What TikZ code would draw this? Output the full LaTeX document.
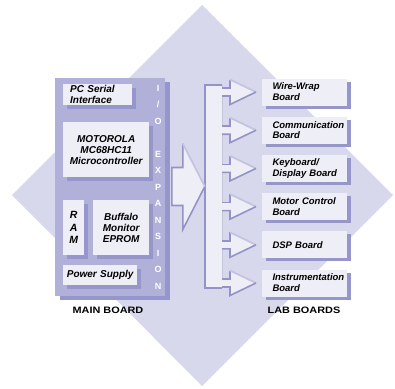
\documentclass[tikz,border=0pt]{standalone}
\usepackage{fontspec}
\setmainfont{Liberation Sans}
\newfontfamily\widefont[FakeStretch=1.17]{Liberation Sans}
\usetikzlibrary{shadows,calc}
\definecolor{dia}{HTML}{D8D8EC}
\definecolor{panel}{HTML}{B0B0D8}
\definecolor{shad}{HTML}{9696CA}
\definecolor{boxf}{HTML}{EEEEF7}
\definecolor{edgelt}{HTML}{C4C4E2}
\definecolor{edgedk}{HTML}{9393C8}
\begin{document}
\begin{tikzpicture}[x=1pt,y=-1pt,
  ibox/.style={fill=boxf, inner sep=0pt, anchor=north west,
    general shadow={fill=shad, shadow xshift=4pt, shadow yshift=-4pt},
    font=\bfseries\itshape\fontsize{10}{11}\selectfont},
  labbox/.style={fill=boxf, minimum width=85pt, minimum height=27pt,
    text width=64pt, align=left, inner sep=0pt,
    general shadow={fill=shad, shadow xshift=4pt, shadow yshift=-3pt},
    font=\bfseries\itshape\fontsize{9.5}{10.8}\selectfont},
  iol/.style={text=white, inner sep=0pt, font=\bfseries\fontsize{9}{9}\selectfont},
  caption/.style={inner sep=0pt, font=\widefont\bfseries\fontsize{9.3}{11}\selectfont},
  dk/.style={draw=edgedk, line width=1.6pt, line join=miter},
  lt/.style={draw=edgelt, line width=1.8pt}
]
\useasboundingbox (0,0) rectangle (395,388);
% background diamond
\fill[dia] (202,5) -- (393,195) -- (202,386) -- (12,195) -- cycle;

% main board panel
\node[anchor=north west, fill=panel, minimum width=110pt, minimum height=218pt,
  inner sep=0pt, general shadow={fill=shad, shadow xshift=5pt, shadow yshift=-4pt}]
  (main) at (55,78) {};

% inner boxes
\node[ibox, minimum width=69pt, minimum height=21pt, text width=55pt, align=left]
  (pc) at (63,84) {PC Serial\\Interface};
\node[ibox, minimum width=86pt, minimum height=55pt, text width=86pt, align=center]
  (moto) at (63,122) {MOTOROLA\\MC68HC11\\Microcontroller};
\node[ibox, minimum width=21pt, minimum height=55pt, text width=21pt, align=center,
  font=\bfseries\itshape\fontsize{10.5}{12.5}\selectfont]
  (ram) at (63,200) {R\\A\\M};
\node[ibox, minimum width=56pt, minimum height=55pt, text width=56pt, align=center]
  (buf) at (93,200) {Buffalo\\Monitor\\EPROM};
\node[ibox, minimum width=74pt, minimum height=20pt, text width=74pt, align=center]
  (pwr) at (63,265) {Power Supply};

% I/O EXPANSION column
\foreach \i/\l in {0/I,1/{/},2/O,4/E,5/X,6/P,7/A,8/N,9/S,10/I,11/O,12/N}
  \node[iol] (io\i) at (158,88+16.5*\i) {\l};

% bus bar
\node[fill=boxf, minimum width=17pt, minimum height=203pt, inner sep=0pt]
  (bus) at (213.5,186.5) {};
\draw[edgelt, line width=1.4pt] (bus.north east) -- (bus.south east);
\draw[dk] (bus.north east) -- (bus.north west) -- (bus.south west) -- (bus.south east);

% big arrow main -> bus
\coordinate (btip) at (bus.west);
\begin{scope}[shift={(btip)}]
  \fill[boxf] (-33,-19) -- (-22,-19) -- (-22,-43) -- (0,0) -- (-22,43) -- (-22,19) -- (-33,19) -- cycle;
  \draw[dk] (-22,-43) -- (-22,-19) -- (-33,-19) -- (-33,19) -- (-22,19) -- (-22,43) -- (0,0);
  \draw[lt] (-22,-43) -- (0,0);
\end{scope}

% small arrows and lab boards
\foreach \k/\t in {0/{\mbox{Wire-Wrap}\\Board},1/{\mbox{Communication}\\Board},2/{\mbox{Keyboard/}\\\mbox{Display Board}},
                   3/{\mbox{Motor Control}\\Board},4/{\mbox{DSP Board}},5/{\mbox{Instrumentation}\\Board}}{
  \coordinate (a\k) at (222,92+38.2*\k);
  \begin{scope}[shift={(a\k)}]
    \fill[boxf] (-1.5,-4) -- (8,-4) -- (8,-12.5) -- (34,0) -- (8,12.5) -- (8,4) -- (-1.5,4) -- cycle;
    \draw[dk] (0,-4) -- (8,-4) -- (8,-12.5);
    \draw[lt] (8,-12.5) -- (34,0);
    \draw[dk] (34,0) -- (8,12.5) -- (8,4) -- (0,4);
  \end{scope}
  \node[labbox] (lab\k) at (304.5,92+38.2*\k) {\t};
}

% captions
\node[caption] (mainlbl) at (108,310) {MAIN BOARD};
\node[caption] (lablbl) at (304,310) {LAB BOARDS};
\end{tikzpicture}
\end{document}
